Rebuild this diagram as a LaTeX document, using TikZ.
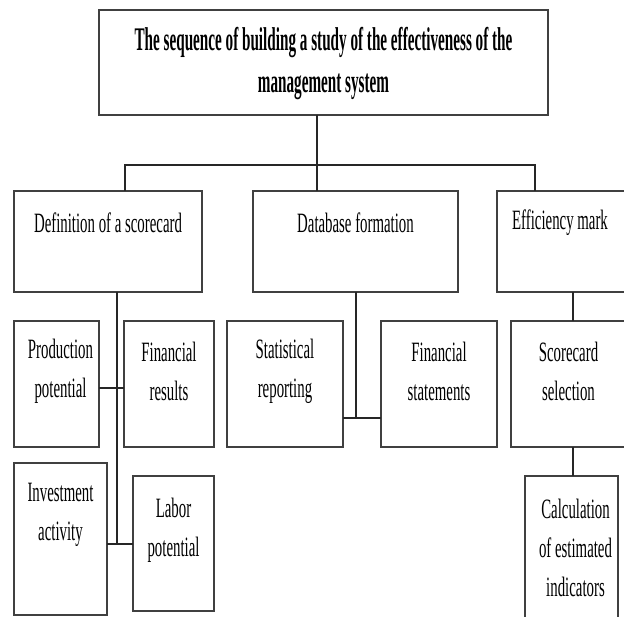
\documentclass[tikz,border=0pt]{standalone}
\usepackage{fontspec}
\setmainfont{Liberation Serif}[FakeStretch=0.53]
\newfontfamily\headfont{Liberation Serif}[FakeStretch=0.46]
\usetikzlibrary{fit}
\usetikzlibrary{calc}

\begin{document}
\begin{tikzpicture}[
  x=1pt, y=-1pt,
  block/.style={draw=black!75, line width=1.6pt, rectangle, inner sep=0pt, outer sep=0pt},
  conn/.style={black!85, line width=1.2pt},
  every label/.style={align=center, inner sep=0pt, font=\fontsize{28}{39}\selectfont},
]
\clip (0,0) rectangle (624,617);

% heading
\node (title) [block, fit={(99,10) (548,115)},
  label={[font=\headfont\bfseries\fontsize{33}{42}\selectfont, yshift=-1.5pt]center:{The sequence of building a study of the effectiveness of the\\management system}}] {};

% second row
\node (def) [block, fit={(14,191) (202,292)}, label={[yshift=18.5pt]center:{Definition of a scorecard}}] {};
\node (db)  [block, fit={(253,191) (458,292)}, label={[yshift=18.5pt]center:{Database formation}}] {};
\node (eff) [block, fit={(497,191) (628,292)}, label={[yshift=18.5pt, xshift=-2.5pt]center:{Efficiency mark}}] {};

% third row
\node (prod)  [block, fit={(14,321) (99,447)}, label={[yshift=12.5pt, xshift=4pt]center:{Production\\potential}}] {};
\node (fres)  [block, fit={(124,321) (214,447)}, label={[yshift=12.5pt]center:{Financial\\results}}] {};
\node (stat)  [block, fit={(227,321) (343,447)}, label={[yshift=12.5pt]center:{Statistical\\reporting}}] {};
\node (fstat) [block, fit={(381,321) (497,447)}, label={[yshift=12.5pt]center:{Financial\\statements}}] {};
\node (sel)   [block, fit={(511,321) (630,447)}, label={[yshift=12.5pt, xshift=-2pt]center:{Scorecard\\selection}}] {};

% fourth row
\node (inv)  [block, fit={(14,463) (107,615)}, label={[yshift=24pt]center:{Investment\\activity}}] {};
\node (lab)  [block, fit={(133,476) (214,611)}, label={[yshift=13.5pt]center:{Labor\\potential}}] {};
\node (calc) [block, fit={(525,476) (618,640)}, label={[yshift=10pt, xshift=4pt]center:{Calculation\\of estimated\\indicators}}] {};

% junction points
\coordinate (bus) at (317,165);
\coordinate (b1) at (125,165);
\coordinate (b3) at (535,165);
\coordinate (d1) at (117,388);
\coordinate (d2) at (117,544);
\coordinate (s1) at (356,418);
\coordinate (e1) at (573,447);

\draw[conn] (title.south -| bus) -- (db.north -| bus);
\draw[conn] (def.north -| b1) -- (b1) -- (b3) -- (eff.north -| b3);

\draw[conn] (def.south -| d1) -- (d2);
\draw[conn] (prod.east |- d1) -- (fres.west |- d1);
\draw[conn] (inv.east |- d2) -- (lab.west |- d2);

\draw[conn] (db.south -| s1) -- (s1);
\draw[conn] (stat.east |- s1) -- (fstat.west |- s1);

\draw[conn] (eff.south -| e1) -- (sel.north -| e1);
\draw[conn] (sel.south -| e1) -- (calc.north -| e1);

\end{tikzpicture}
\end{document}
